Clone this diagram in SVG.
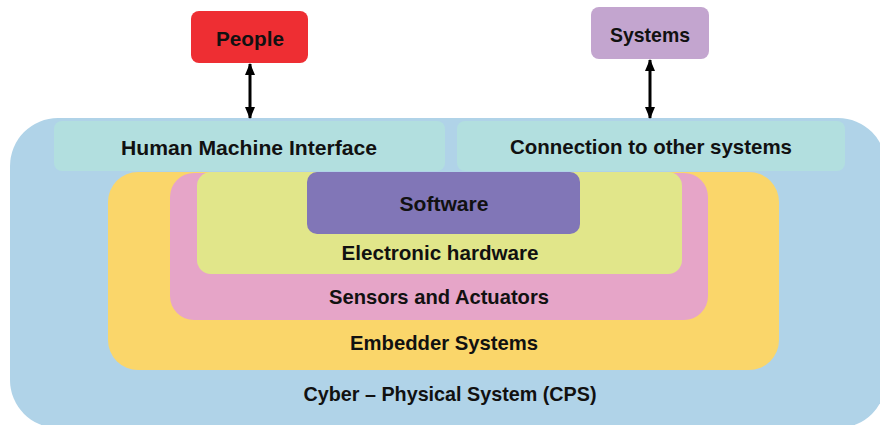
<svg xmlns="http://www.w3.org/2000/svg" width="880" height="425" viewBox="0 0 880 425">
<style>
text{font-family:"Liberation Sans",Arial,sans-serif;font-weight:bold;font-size:21px;fill:#111;text-anchor:middle;dominant-baseline:central}
.c{stroke:#000;stroke-width:3;fill:none}
</style>
<defs>
<marker id="ah" viewBox="0 0 12 10" refX="11" refY="5" markerWidth="12" markerHeight="10" orient="auto-start-reverse" markerUnits="userSpaceOnUse">
<path d="M0,0 L12,5 L0,10 z" fill="#000"/>
</marker>
</defs>
<rect width="880" height="425" fill="#fff"/>
<g id="cps">
<rect x="10" y="118" width="876" height="310" rx="48" fill="#B0D3E8"/>
<text x="450" y="393" textLength="293" lengthAdjust="spacingAndGlyphs">Cyber – Physical System (CPS)</text>
</g>
<g id="hmi">
<rect x="54" y="121" width="391" height="50" rx="8" fill="#B2DFDF"/>
<text x="249" y="147" textLength="256" lengthAdjust="spacingAndGlyphs">Human Machine Interface</text>
</g>
<g id="conn">
<rect x="457" y="121" width="388" height="50" rx="8" fill="#B2DFDF"/>
<text x="651" y="146" textLength="282" lengthAdjust="spacingAndGlyphs">Connection to other systems</text>
</g>
<g id="embedder">
<rect x="108" y="172" width="671" height="198" rx="30" fill="#FAD66A"/>
<text x="444" y="342" textLength="188" lengthAdjust="spacingAndGlyphs">Embedder Systems</text>
</g>
<g id="sensors">
<rect x="170" y="173" width="538" height="147" rx="24" fill="#E6A5C8"/>
<text x="439" y="296" textLength="220" lengthAdjust="spacingAndGlyphs">Sensors and Actuators</text>
</g>
<g id="electronic">
<rect x="197" y="172" width="485" height="102" rx="14" fill="#E1E68A"/>
<text x="440" y="252" textLength="197" lengthAdjust="spacingAndGlyphs">Electronic hardware</text>
</g>
<g id="software">
<rect x="307" y="172" width="273" height="62" rx="10" fill="#8176B7"/>
<text x="444" y="203" textLength="89" lengthAdjust="spacingAndGlyphs">Software</text>
</g>
<g id="people">
<rect x="191" y="11" width="117" height="52" rx="8" fill="#EE2E33"/>
<text x="250" y="38" textLength="68" lengthAdjust="spacingAndGlyphs">People</text>
</g>
<g id="systems">
<rect x="591" y="7" width="118" height="52" rx="8" fill="#C3A5CF"/>
<text x="650" y="34" textLength="80" lengthAdjust="spacingAndGlyphs">Systems</text>
</g>
<g id="connectors">
<line class="c" x1="250" y1="64" x2="250" y2="118" marker-start="url(#ah)" marker-end="url(#ah)"/>
<line class="c" x1="650" y1="60" x2="650" y2="118" marker-start="url(#ah)" marker-end="url(#ah)"/>
</g>
</svg>
